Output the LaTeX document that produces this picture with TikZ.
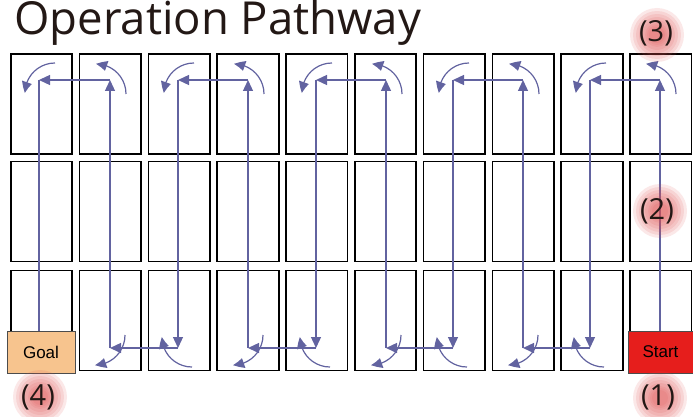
\documentclass[tikz,border=0pt]{standalone}
\usepackage{fontspec}
\setmainfont{Open Sans}
\newfontfamily\arialfont{Liberation Sans}
\usetikzlibrary{arrows.meta,bending}
\definecolor{pathblue}{RGB}{98,99,160}
\definecolor{goalfill}{RGB}{247,196,142}
\definecolor{startfill}{RGB}{230,30,28}
\definecolor{glowc}{RGB}{222,80,80}
\definecolor{inkc}{RGB}{35,24,21}
\begin{document}
\begin{tikzpicture}[x=1pt,y=-1pt,
  cell/.style={draw=black,line width=1.7pt,minimum width=61.5pt,minimum height=100pt,inner sep=0pt},
  flow/.style={draw=pathblue,line width=1.3pt,-{Triangle[length=11pt,width=10pt]}},
  plainflow/.style={draw=pathblue,line width=1.3pt},
  turn/.style={draw=pathblue,line width=1.2pt,-{Triangle[length=11pt,width=10pt,bend]}},
  endbox/.style={draw=black!70,line width=0.6pt,minimum height=42pt,inner sep=0pt,font=\arialfont\fontsize{17}{17}\selectfont},
  steplabel/.style={text=inkc,inner sep=0pt,font=\fontsize{29}{29}\selectfont},
  glowbox/.style={fill=glowc,fill opacity=0.13,rounded corners=#1}
]
\useasboundingbox (0,0) rectangle (693,417);
% title
\node[anchor=base west,inner sep=0pt,text=inkc] (title) at (14,34.5) {\fontsize{45.5}{46}\selectfont Operation Pathway};
% cells
\foreach \i in {1,...,10}{
  \foreach \r/\yy in {1/104,2/211.5,3/320.5}{
    \node[cell] (c\i-\r) at ({41.5+(\i-1)*68.8},\yy) {};
  }
}
% turning points
\foreach \i/\x in {1/39,2/110,3/178,4/248,5/316,6/386,7/453,8/523,9/590,10/660}{
  \coordinate (t\i) at (\x,80);
  \coordinate (b\i) at (\x,348);
}
% goal and start
\node[endbox,fill=goalfill,minimum width=68pt] (goal) at (41,352) {Goal};
\node[endbox,fill=startfill,minimum width=65pt] (start) at (660.5,352) {Start};
% pathway
\draw[flow] (start.north -| t10) -- (t10);
\draw[flow] (t10) -- (t9);
\draw[flow] (t9) -- (b9);
\draw[flow] (b9) -- (b8);
\draw[flow] (b8) -- (t8);
\draw[flow] (t8) -- (t7);
\draw[flow] (t7) -- (b7);
\draw[flow] (b7) -- (b6);
\draw[flow] (b6) -- (t6);
\draw[flow] (t6) -- (t5);
\draw[flow] (t5) -- (b5);
\draw[flow] (b5) -- (b4);
\draw[flow] (b4) -- (t4);
\draw[flow] (t4) -- (t3);
\draw[flow] (t3) -- (b3);
\draw[flow] (b3) -- (b2);
\draw[flow] (b2) -- (t2);
\draw[flow] (t2) -- (t1);
\draw[plainflow] (t1) -- (t1 |- goal.north);
% turning arcs
\foreach \x in {660,523,386,248,110}{
  \draw[turn] (\x+16,94) arc[start angle=0,end angle=-90,radius=30];
}
\foreach \x in {523,386,248,110}{
  \draw[turn] (\x+15,335) arc[start angle=0,end angle=90,radius=30];
}
\foreach \x in {590,453,316,178,39}{
  \draw[turn] (\x+16,63) arc[start angle=-90,end angle=-180,radius=30];
}
\foreach \x in {590,453,316,178}{
  \draw[turn] (\x+14,367) arc[start angle=90,end angle=180,radius=30];
}
% glows
\foreach \cx/\cy in {657/35,660/211,660/398,40/397}{
  \foreach \s in {27,24,21,18,15,12,10,8}{
    \fill[glowbox=\s pt] (\cx-\s,\cy-\s) rectangle (\cx+\s,\cy+\s);
  }
}
% step labels
\node[steplabel] (s3) at (656,33) {(3)};
\node[steplabel] (s2) at (657,211) {(2)};
\node[steplabel] (s1) at (658,397) {(1)};
\node[steplabel] (s4) at (38,397) {(4)};
\end{tikzpicture}
\end{document}
